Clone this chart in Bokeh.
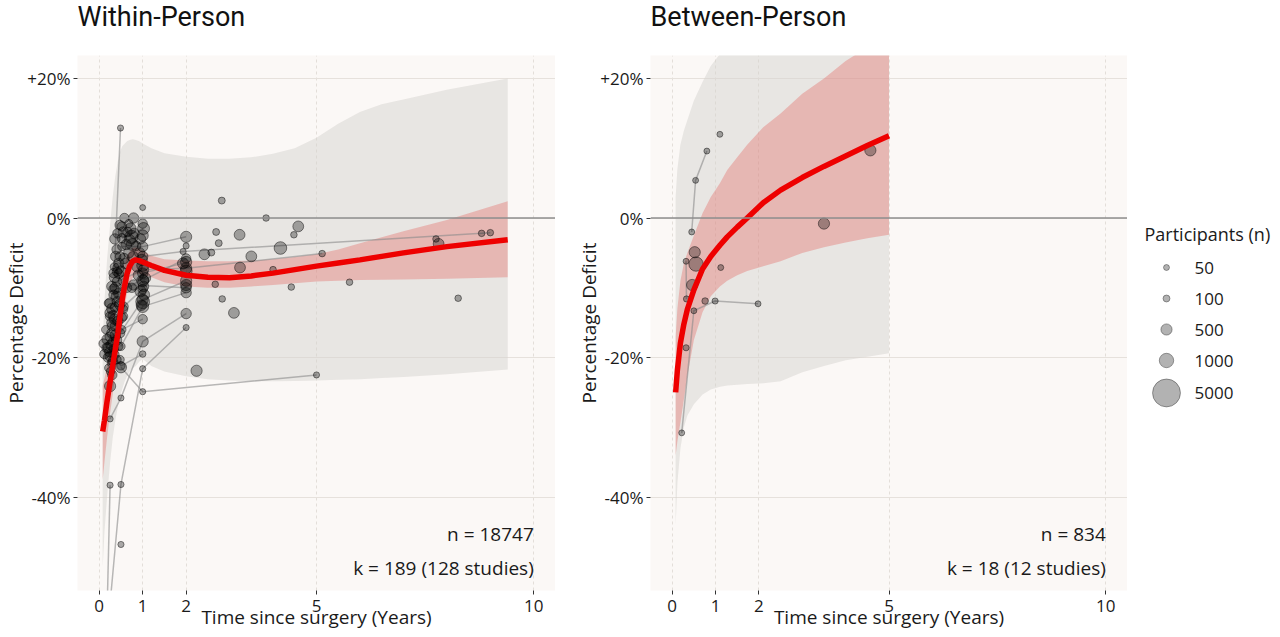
import numpy as np
from bokeh.plotting import figure
from bokeh.models import Range1d, FixedTicker, Span, ColumnDataSource
from bokeh.layouts import row, column
from bokeh.embed import file_html
from bokeh.resources import INLINE
from bokeh.core.properties import value

# ---------------- data ----------------
x_ticks = [0, 1, 2, 5, 10]
x_tick_labels = ["0", "1", "2", "5", "10"]
y_ticks = [-40, -20, 0, 20]
y_tick_labels = ["-40%", "-20%", "0%", "+20%"]

legend_n = [50, 100, 500, 1000, 5000]

# Within-person model (fit, confidence band, prediction band)
within_t = [0.08, 0.12, 0.18, 0.25, 0.31, 0.37, 0.43, 0.48, 0.53, 0.58, 0.64, 0.70, 0.77, 0.84, 0.92, 1.0,
            1.2, 1.5, 2.0, 2.5, 3.0, 3.5, 4.0, 4.5, 5.0, 5.5, 6.0, 6.5, 7.0, 8.0, 9.4]
within_fit = [-30.6, -29.0, -26.3, -23.5, -21.2, -18.8, -16.5, -14.0, -11.7, -9.9, -8.0, -6.9, -6.2, -6.0, -6.1,
              -6.3, -6.8, -7.5, -8.2, -8.5, -8.55, -8.3, -7.9, -7.4, -6.9, -6.45, -6.0, -5.5, -5.0, -4.1, -3.1]
within_ci_lo = [-37.5, -35.0, -31.5, -28.0, -25.3, -22.6, -20.0, -17.5, -15.0, -13.0, -10.8, -9.5, -8.6, -8.1,
                -8.0, -8.1, -8.5, -9.2, -9.8, -10.0, -10.0, -9.8, -9.6, -9.35, -9.1, -9.0, -8.9, -8.85, -8.8,
                -8.7, -8.5]
within_ci_hi = [-24.0, -23.0, -21.2, -19.0, -17.2, -15.0, -13.0, -10.5, -8.5, -7.0, -5.5, -4.8, -4.3, -4.2,
                -4.4, -4.7, -5.4, -5.9, -6.1, -6.2, -6.2, -6.1, -5.9, -5.6, -5.2, -4.5, -3.6, -2.75, -1.9,
                -0.3, 2.4]
within_pi_lo = [-50.0, -45.0, -40.0, -35.0, -31.5, -29.0, -27.0, -25.5, -24.5, -23.5, -22.7, -22.0, -21.5,
                -21.2, -20.6, -20.2, -21.2, -22.0, -22.7, -23.1, -23.3, -23.4, -23.4, -23.35, -23.3, -23.2,
                -23.1, -22.95, -22.8, -22.4, -21.7]
within_pi_hi = [-18.0, -12.0, -6.0, -1.0, 3.0, 6.0, 8.2, 9.5, 10.3, 10.6, 11.0, 11.2, 11.3, 11.2, 11.0, 10.7,
                10.0, 9.3, 8.8, 8.5, 8.5, 8.7, 9.2, 10.0, 11.5, 13.5, 15.2, 16.3, 17.0, 18.4, 20.0]

# Within-person effect sizes: trajectories of multi-wave studies first, then single effects
within_multi_study = [1, 1, 2, 2, 2, 2, 3, 3, 3, 4, 4, 4, 4, 5, 5, 6, 6, 6, 7, 7, 7, 8, 8, 8,
                      9, 9, 9, 9, 10, 10, 10, 10, 11, 11, 12, 12, 13, 13, 14, 14, 14, 15, 15, 15,
                      16, 16, 17, 17, 17, 18, 18, 18]
within_time = [0.35, 0.49, 0.18, 0.5, 1.0, 2.0, 0.5, 1.0, 5.0, 0.25, 0.5, 1.0, 2.0, 0.16, 0.25,
               0.5, 1.0, 2.0, 0.48, 1.0, 2.0, 0.52, 1.0, 2.0,
               1.0, 1.93, 8.8, 9.0, 0.41, 1.02, 2.0, 5.13, 1.02, 2.0, 0.79, 2.0, 1.0, 1.93,
               0.25, 0.56, 1.0, 0.24, 0.52, 1.0, 0.52, 1.02, 0.29, 0.64, 1.06, 0.21, 0.5, 1.0,
               # single effects
               1.0, 0.58, 0.79, 0.52, 0.68, 0.74, 0.70, 0.62, 0.68, 0.48, 0.78, 0.87, 0.41, 0.33,
               0.75, 0.45, 0.33, 0.25, 0.21, 0.56, 0.25, 0.56, 0.52, 0.37, 0.29, 0.29, 0.18, 0.18,
               0.45, 0.25, 0.41, 0.48, 0.25, 0.5, 0.40, 0.45, 0.35, 0.38, 0.42, 0.30, 0.35, 0.40,
               0.33, 0.28, 0.22, 0.30, 0.20, 0.45, 0.55, 0.60, 0.65, 0.57, 0.85, 0.9, 0.95, 0.95,
               0.15, 0.12, 0.10, 1.0, 1.0, 1.0, 1.02, 2.0, 2.0, 2.0,
               0.36, 0.42, 0.47, 0.55, 0.72, 0.76, 0.80, 0.38, 0.44, 0.50, 0.34, 0.40, 0.47, 0.36,
               0.32, 0.43, 0.28, 0.37, 0.31, 0.27, 0.35, 0.23, 0.31, 0.26, 0.98, 1.0, 1.03, 0.97, 1.0, 0.93,
               2.82, 3.84, 4.58, 4.48, 2.69, 3.23, 2.75, 2.42, 2.58, 3.5, 4.17, 3.24, 4.0, 2.67,
               2.83, 3.1, 4.42, 5.76, 8.26, 7.75, 7.81, 2.24, 2.0]
within_pct = [-7.0, 12.9, -60.0, -38.2, -21.6, -15.7, -21.4, -24.9, -22.5, -28.8, -25.8, -17.7, -13.7,
              -62.0, -38.3, -18.4, -12.7, -10.7, -16.5, -11.7, -9.0, -4.1, -4.1, -2.7,
              -5.5, -4.8, -2.2, -2.1, -9.1, -7.4, -7.2, -5.1, -8.9, -5.8, -9.6, -10.0, -7.9, -6.5,
              -13.6, -12.7, -10.2, -17.0, -16.0, -14.5, -2.9, -1.5, -9.8, -10.0, -8.6, -18.6, -21.2, -19.5,
              1.5, 0.0, 0.0, -1.2, -0.8, -2.7, -3.2, -3.8, -5.0, -5.5, -5.6, -7.0, -7.7, -7.9,
              -10.0, -10.8, -11.0, -12.2, -12.2, -13.1, -14.1, -14.1, -14.3, -15.5, -15.5, -16.5, -17.4, -18.6,
              -18.4, -19.8, -20.3, -20.3, -24.1, -46.8, -4.5, -6.5, -8.5, -10.0, -12.0, -13.0, -14.5, -17.5,
              -18.8, -20.8, -21.5, -22.5, -20.0, -8.0, -9.0, -6.5, -2.0, -5.8, -4.0, -8.2, -10.5, -3.0,
              -16.0, -19.5, -18.0, -2.5, -6.8, -12.0, -9.8, -6.3, -7.6, -9.6,
              -3.0, -2.2, -1.0, -2.0, -1.5, -3.8, -2.2, -5.5, -7.2, -7.6, -10.2, -11.3, -12.4, -12.8,
              -14.0, -14.8, -15.0, -16.8, -17.8, -18.2, -19.6, -19.2, -20.5, -22.0, -6.0, -9.0, -11.0, -12.5,
              -0.8, -5.0,
              2.5, 0.0, -1.2, -2.4, -2.0, -2.4, -3.6, -5.2, -4.95, -5.5, -4.3, -7.1, -7.4, -9.5,
              -11.6, -13.6, -9.9, -9.2, -11.5, -3.0, -3.7, -21.9, -4.0]
within_n = [200, 60, 50, 60, 60, 60, 500, 60, 60, 60, 60, 500, 400, 50, 60, 200, 600, 400, 300, 500, 500,
            200, 400, 500, 400, 60, 80, 80, 300, 400, 500, 80, 400, 300, 400, 400, 400, 500,
            400, 300, 300, 300, 200, 300, 300, 600, 400, 300, 450, 400, 200, 80,
            50, 300, 400, 300, 200, 800, 500, 400, 400, 300, 500, 400, 300, 300,
            300, 400, 300, 400, 200, 200, 300, 200, 300, 400, 300, 400, 400, 400,
            200, 400, 200, 200, 500, 60, 300, 400, 400, 500, 400, 500, 400, 400,
            300, 200, 200, 300, 300, 300, 300, 400, 300, 400, 300, 400, 500, 400,
            200, 300, 300, 500, 600, 900, 400, 500, 600, 500,
            400, 300, 300, 400, 500, 600, 400, 400, 500, 400, 400, 500, 400, 300,
            400, 400, 300, 400, 300, 400, 300, 300, 300, 200, 500, 600, 500, 400, 300, 400,
            100, 80, 450, 80, 100, 450, 100, 450, 100, 450, 700, 450, 80, 80,
            80, 450, 80, 80, 80, 80, 450, 500, 60]
within_study = within_multi_study + list(range(100, 100 + len(within_time) - len(within_multi_study)))

within_n_total = 18747
within_k = 189
within_k_studies = 128

# Between-person model
between_t = [0.08, 0.12, 0.19, 0.27, 0.35, 0.5, 0.7, 0.89, 1.1, 1.27, 1.5, 1.73, 2.1, 2.5, 3.0, 3.5, 4.0,
             4.5, 5.0]
between_fit = [-25.0, -21.8, -17.9, -15.2, -13.1, -10.3, -7.3, -5.5, -3.9, -2.7, -1.3, 0.0, 2.2, 4.0, 5.8,
               7.4, 8.9, 10.4, 11.8]
between_ci_lo = [-34.0, -32.0, -29.3, -26.0, -22.7, -17.5, -13.5, -11.2, -9.8, -9.0, -8.2, -7.6, -6.9, -6.2,
                 -5.0, -4.2, -3.5, -2.9, -2.4]
between_ci_hi = [-17.0, -13.0, -9.0, -6.5, -5.0, -2.5, 0.7, 3.0, 5.0, 6.9, 8.7, 10.5, 13.0, 15.0, 17.8,
                 20.0, 22.5, 24.5, 26.5]
between_pi_lo = [-44.0, -38.0, -33.0, -30.0, -28.3, -26.7, -25.3, -24.6, -24.2, -24.0, -23.9, -23.8, -23.7,
                 -23.4, -22.1, -21.2, -20.4, -19.9, -19.4]
between_pi_hi = [3.0, 7.0, 10.5, 12.5, 14.0, 16.8, 19.5, 21.8, 23.5, 25.0, 27.0, 28.5, 30.0, 32.0, 34.0,
                 35.5, 37.0, 38.0, 39.0]

between_study = [1, 1, 1, 1, 2, 2, 2, 3, 4, 4, 5, 6, 7, 8, 9, 10, 11, 12]
between_time = [0.22, 0.50, 0.99, 1.98, 0.45, 0.54, 0.80, 1.10, 0.32, 0.33, 0.32, 0.52, 0.46, 0.55, 1.12,
                0.76, 3.5, 4.57]
between_pct = [-30.8, -13.3, -11.9, -12.3, -2.0, 5.4, 9.6, 12.0, -6.2, -11.6, -18.6, -4.9, -9.6, -6.6, -7.1,
               -11.9, -0.8, 9.7]
between_n = [50, 50, 60, 50, 50, 50, 50, 50, 50, 60, 60, 500, 500, 1000, 50, 80, 500, 500]

between_n_total = 834
between_k = 18
between_k_studies = 12

panel_titles = ["Within-Person", "Between-Person"]

# ---------------- layout constants ----------------
PAGE_H = 637
TH = 55            # height of the title strip
H = PAGE_H - TH    # height of the panel row
BOT = 47
Y_LO, Y_HI = -53.4, 23.3
X_LO, X_HI = -0.5, 10.5
FONT = "Open Sans"
W1, W2, LW = 555, 572, 149
L1, L2 = 77, 95


def size_px(n):
    return 3.5 + 0.345 * np.sqrt(np.asarray(n, dtype=float))


def bare_figure(width, height, left, x_range, y_range, top=0, bottom=0):
    f = figure(width=width, height=height, x_range=x_range, y_range=y_range,
               output_backend="svg", toolbar_location=None,
               min_border_left=left, min_border_right=0, min_border_top=top, min_border_bottom=bottom,
               x_axis_location=None, y_axis_location=None)
    f.grid.visible = False
    f.outline_line_color = None
    f.background_fill_color = "white"
    f.border_fill_color = "white"
    return f


def title_strip(text, width, left):
    f = bare_figure(width, TH, left, Range1d(X_LO, X_HI), Range1d(TH, 0))
    f.text(x=[X_LO], y=[16], text=[text], text_align="left", text_baseline="middle",
           text_font=value("Roboto"), text_font_size="27px", text_color="#111111")
    return f


def make_panel(width, left, t, fit, ci_lo, ci_hi, pi_lo, pi_hi,
               study, time, pct, n, n_total, k_total, k_studies):
    p = figure(width=width, height=H, x_range=Range1d(X_LO, X_HI), y_range=Range1d(Y_LO, Y_HI),
               output_backend="svg", toolbar_location=None,
               min_border_left=left, min_border_right=0, min_border_top=0, min_border_bottom=BOT)
    p.background_fill_color = "#fbf8f6"
    p.border_fill_color = "white"
    p.outline_line_color = None

    p.xaxis.ticker = FixedTicker(ticks=x_ticks)
    p.xaxis.major_label_overrides = {tk: lb for tk, lb in zip(x_ticks, x_tick_labels)}
    p.yaxis.ticker = FixedTicker(ticks=y_ticks)
    p.yaxis.major_label_overrides = {tk: lb for tk, lb in zip(y_ticks, y_tick_labels)}
    p.xaxis.axis_label = "Time since surgery (Years)"
    p.yaxis.axis_label = "Percentage Deficit"
    for ax in (p.xaxis, p.yaxis):
        ax.axis_line_color = None
        ax.major_tick_line_color = "#333333"
        ax.major_tick_out = 4
        ax.major_tick_in = 0
        ax.minor_tick_line_color = None
        ax.major_label_text_font = FONT
        ax.major_label_text_font_size = "17px"
        ax.major_label_text_color = "#1a1a1a"
        ax.axis_label_text_font = FONT
        ax.axis_label_text_font_size = "19px"
        ax.axis_label_text_font_style = "normal"
        ax.axis_label_text_color = "#1a1a1a"
    p.xaxis.major_label_standoff = 5
    p.xaxis.axis_label_standoff = -11
    p.yaxis.major_label_standoff = 3
    p.yaxis.axis_label_standoff = -5

    p.xgrid.ticker = FixedTicker(ticks=x_ticks)
    p.xgrid.grid_line_color = "#e3ded9"
    p.xgrid.grid_line_dash = "3 3"
    p.xgrid.grid_line_width = 1
    p.ygrid.ticker = FixedTicker(ticks=y_ticks)
    p.ygrid.grid_line_color = "#e6e1dc"
    p.ygrid.grid_line_width = 1.2

    # prediction and confidence bands
    p.varea(x=t, y1=pi_lo, y2=pi_hi, fill_color="#d6d3d0", fill_alpha=0.5)
    p.varea(x=t, y1=ci_lo, y2=ci_hi, fill_color="#e0201c", fill_alpha=0.24)

    p.add_layout(Span(location=0, dimension="width", line_color="#8e8e8e", line_width=1.6, level="glyph"))

    # study trajectories
    groups = {}
    for s, tt, yy in zip(study, time, pct):
        groups.setdefault(s, []).append((tt, yy))
    xs, ys = [], []
    for s, pts in groups.items():
        if len(pts) > 1:
            pts = sorted(pts)
            xs.append([q[0] for q in pts])
            ys.append([q[1] for q in pts])
    p.multi_line(xs=xs, ys=ys, line_color="#8a8a8a", line_alpha=0.6, line_width=1.5)

    src = ColumnDataSource(dict(x=time, y=pct, s=size_px(n)))
    p.scatter(x="x", y="y", size="s", source=src, marker="circle",
              fill_color="black", fill_alpha=0.32, line_color="black", line_alpha=0.5, line_width=0.9)

    p.line(x=t, y=fit, line_color="#ee0000", line_width=5.5)

    p.text(x=[x_ticks[-1]], y=[-45.3], text=[f"n = {n_total}"], text_align="right", text_baseline="middle",
           text_font=value(FONT), text_font_size="19px", text_color="#1a1a1a")
    p.text(x=[x_ticks[-1]], y=[-50.2], text=[f"k = {k_total} ({k_studies} studies)"], text_align="right",
           text_baseline="middle", text_font=value(FONT), text_font_size="19px", text_color="#1a1a1a")
    return p


t1 = title_strip(panel_titles[0], W1, L1)
t2 = title_strip(panel_titles[1], W2, L2)

p1 = make_panel(W1, L1, within_t, within_fit, within_ci_lo, within_ci_hi,
                within_pi_lo, within_pi_hi, within_study, within_time, within_pct, within_n,
                within_n_total, within_k, within_k_studies)
p2 = make_panel(W2, L2, between_t, between_fit, between_ci_lo, between_ci_hi,
                between_pi_lo, between_pi_hi, between_study, between_time, between_pct, between_n,
                between_n_total, between_k, between_k_studies)

# legend panel: frame aligned with the panels, y range expressed in page pixels
p3 = bare_figure(LW, H, 0, Range1d(0, LW), Range1d(PAGE_H - BOT, TH), top=0, bottom=BOT)

leg_sizes = size_px(legend_n)
heights = np.maximum(31.0, leg_sizes + 6)
top = 251.5
centers = top + np.cumsum(heights) - heights / 2
p3.text(x=[17], y=[233], text=["Participants (n)"], text_align="left", text_baseline="middle",
        text_font=value(FONT), text_font_size="18px", text_color="#1a1a1a")
p3.scatter(x=[39] * len(legend_n), y=centers, size=leg_sizes, marker="circle",
           fill_color="black", fill_alpha=0.3, line_color="black", line_alpha=0.35, line_width=1)
p3.text(x=[67] * len(legend_n), y=centers, text=[str(v) for v in legend_n], text_align="left",
        text_baseline="middle", text_font=value(FONT), text_font_size="17px", text_color="#1a1a1a")

layout = column(row(t1, t2), row(p1, p2, p3))
open("out.html", "w").write(file_html(layout, INLINE))
